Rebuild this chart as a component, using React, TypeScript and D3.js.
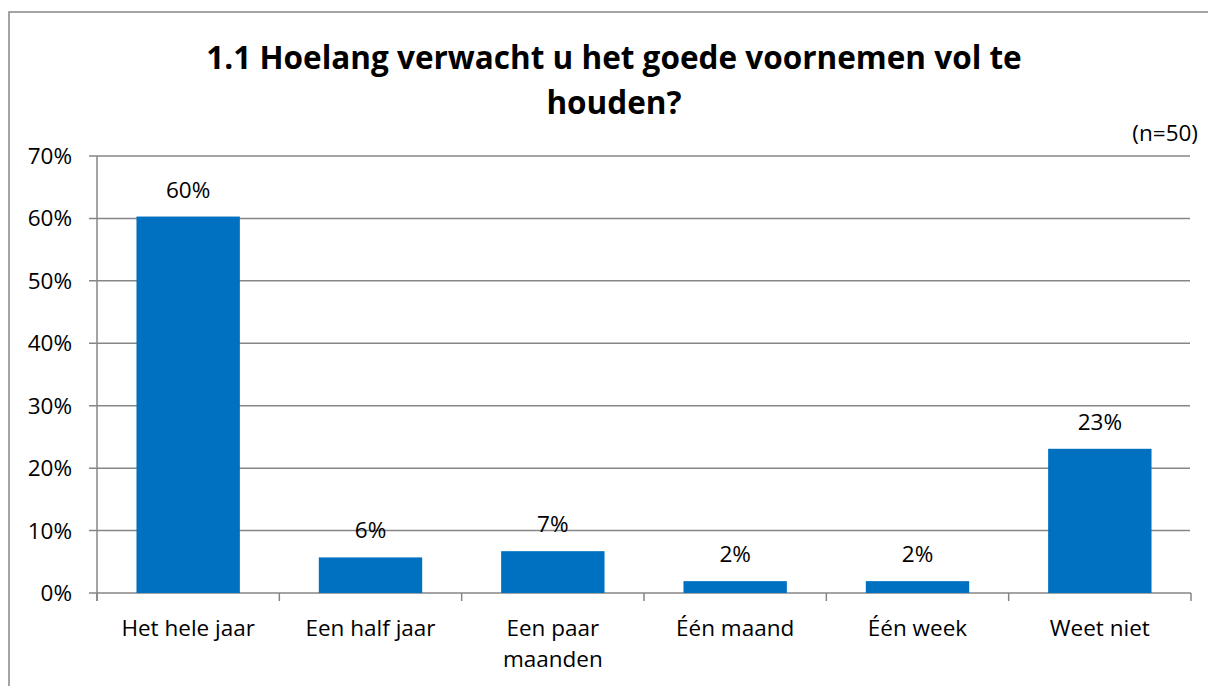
import React from "react";
import * as d3 from "d3";

const titleLines = ["1.1 Hoelang verwacht u het goede voornemen vol te", "houden?"];
const sampleNote = "(n=50)";
const categories = ["Het hele jaar", "Een half jaar", "Een paar\nmaanden", "Één maand", "Één week", "Weet niet"];
const values = [60.3, 5.7, 6.7, 1.9, 1.9, 23.1];
const valueLabels = ["60%", "6%", "7%", "2%", "2%", "23%"];
const yTicks = [0, 10, 20, 30, 40, 50, 60, 70];

const W = 1208;
const H = 686;
const FONT = "'Open Sans', 'Noto Sans', sans-serif";
const GRID = "#868686";
const BAR = "#0070C0";

export default function App() {
  const left = 97;
  const right = 1191;
  const top = 156;
  const bottom = 593;
  const x = d3.scaleBand<string>().domain(categories).range([left, right]).paddingInner(0.433).paddingOuter(0.2165);
  const y = d3.scaleLinear().domain([0, 70]).range([bottom, top]);
  const step = x.step();
  const fs = 22.5;

  return (
    <svg width={W} height={H} style={{ position: "absolute", left: 0, top: 0, background: "#fff" }} fontFamily={FONT}>
      <rect x={9} y={12} width={W + 20} height={H + 20} fill="#fff" stroke={GRID} strokeWidth={1.5} />
      {titleLines.map((t, i) => (
        <text key={i} x={614} y={69 + i * 45} textAnchor="middle" fontWeight={700} fontSize={31.5} fill="#000">
          {t}
        </text>
      ))}
      <text x={1198} y={141} textAnchor="end" fontSize={fs} fill="#000">{sampleNote}</text>

      {yTicks.map((t) => (
        <g key={t}>
          <line x1={89} x2={t === 0 ? right : 1190} y1={y(t)} y2={y(t)} stroke={GRID} strokeWidth={1.5} />
          <text x={72} y={y(t) + 8} textAnchor="end" fontSize={fs} fill="#000">{t}%</text>
        </g>
      ))}
      <line x1={left} x2={left} y1={top} y2={bottom + 8} stroke={GRID} strokeWidth={1.5} />
      {d3.range(categories.length + 1).map((i) => (
        <line key={i} x1={left + i * step} x2={left + i * step} y1={bottom} y2={bottom + 8} stroke={GRID} strokeWidth={1.5} />
      ))}

      {categories.map((c, i) => (
        <g key={c}>
          <rect x={x(c)} y={y(values[i])} width={x.bandwidth()} height={bottom - y(values[i])} fill={BAR} />
          <text x={(x(c) as number) + x.bandwidth() / 2} y={y(values[i]) - 19} textAnchor="middle" fontSize={fs} fill="#000">
            {valueLabels[i]}
          </text>
          {c.split("\n").map((line, j) => (
            <text key={j} x={(x(c) as number) + x.bandwidth() / 2} y={636 + j * 31} textAnchor="middle" fontSize={fs} fill="#000">
              {line}
            </text>
          ))}
        </g>
      ))}
    </svg>
  );
}
